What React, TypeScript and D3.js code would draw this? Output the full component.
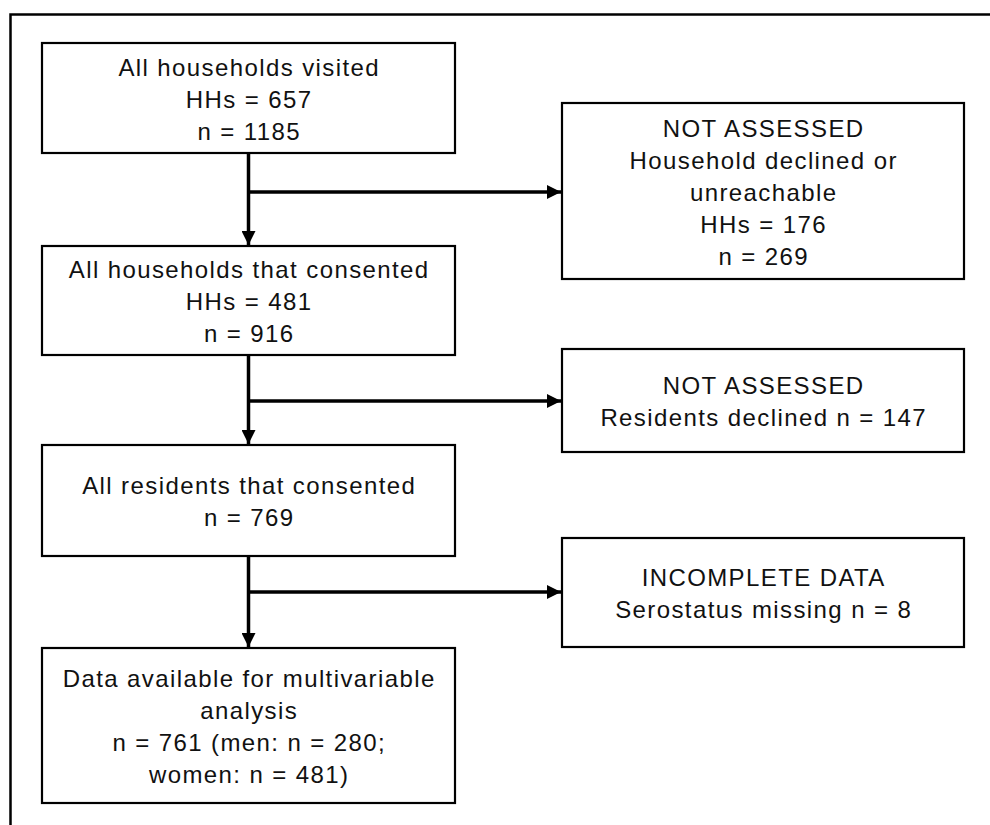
import React, { useEffect, useRef } from 'react';
import * as d3 from 'd3';

// flow steps down the left column
const mainLines: string[][] = [
  ['All households visited', 'HHs = 657', 'n = 1185'],
  ['All households that consented', 'HHs = 481', 'n = 916'],
  ['All residents that consented', 'n = 769'],
  ['Data available for multivariable', 'analysis', 'n = 761 (men: n = 280;', 'women: n = 481)'],
];

// exclusion boxes on the right
const sideLines: string[][] = [
  ['NOT ASSESSED', 'Household declined or', 'unreachable', 'HHs = 176', 'n = 269'],
  ['NOT ASSESSED', 'Residents declined n = 147'],
  ['INCOMPLETE DATA', 'Serostatus missing n = 8'],
];

const W = 990;
const H = 825;

// layout (pixels)
const mainX: [number, number] = [42, 455];
const sideX: [number, number] = [562, 964];
const mainY: [number, number][] = [[43, 153], [246, 355], [445, 556], [648, 803]];
const sideY: [number, number][] = [[103, 279], [349, 452], [538, 647]];
const branchY = [192, 401, 592];

export default function App() {
  const ref = useRef<SVGSVGElement>(null);

  useEffect(() => {
    const svg = d3.select(ref.current);
    svg.selectAll('*').remove();

    svg.append('rect').attr('width', W).attr('height', H).attr('fill', '#fff');

    // outer frame (only top and left visible)
    svg.append('path')
      .attr('d', `M10.5,${H} V14.5 H${W}`)
      .attr('fill', 'none')
      .attr('stroke', '#000')
      .attr('stroke-width', 2.5);

    const defs = svg.append('defs');
    defs.append('marker')
      .attr('id', 'arr')
      .attr('viewBox', '0 0 10 10')
      .attr('refX', 10)
      .attr('refY', 5)
      .attr('markerUnits', 'userSpaceOnUse')
      .attr('markerWidth', 14)
      .attr('markerHeight', 14)
      .attr('orient', 'auto')
      .append('path')
      .attr('d', 'M0,0 L10,5 L0,10 Z')
      .attr('fill', '#000');

    const cx = (mainX[0] + mainX[1]) / 2;
    const line = d3.line();
    const g = svg.append('g');

    // vertical arrows between the main boxes
    for (let i = 0; i < mainY.length - 1; i++) {
      g.append('path')
        .attr('d', line([[cx, mainY[i][1]], [cx, mainY[i + 1][0] - 1]]))
        .attr('stroke', '#000')
        .attr('stroke-width', 3.5)
        .attr('fill', 'none')
        .attr('marker-end', 'url(#arr)');
    }
    // branches to the side boxes
    branchY.forEach(y => {
      g.append('path')
        .attr('d', line([[cx, y], [sideX[0] - 1, y]]))
        .attr('stroke', '#000')
        .attr('stroke-width', 3.5)
        .attr('fill', 'none')
        .attr('marker-end', 'url(#arr)');
    });

    const drawBox = (x: [number, number], y: [number, number], lines: string[]) => {
      const b = svg.append('g');
      b.append('rect')
        .attr('x', x[0])
        .attr('y', y[0])
        .attr('width', x[1] - x[0])
        .attr('height', y[1] - y[0])
        .attr('fill', '#fff')
        .attr('stroke', '#000')
        .attr('stroke-width', 2.2);
      const my = (y[0] + y[1]) / 2;
      const mx = (x[0] + x[1]) / 2;
      b.selectAll('text')
        .data(lines)
        .enter().append('text')
        .attr('x', mx + 0.7)
        .attr('y', (d, i) => my + (i - (lines.length - 1) / 2) * 32 + 9.5)
        .attr('text-anchor', 'middle')
        .attr('font-family', '"Liberation Sans", Arial, sans-serif')
        .attr('font-size', 24)
        .attr('letter-spacing', 1.4)
        .attr('fill', '#111')
        .text(d => d);
    };

    mainLines.forEach((l, i) => drawBox(mainX, mainY[i], l));
    sideLines.forEach((l, i) => drawBox(sideX, sideY[i], l));
  }, []);

  return (
    <svg ref={ref} width={W} height={H}
         style={{ position: 'absolute', left: 0, top: 0, display: 'block' }} />
  );
}
